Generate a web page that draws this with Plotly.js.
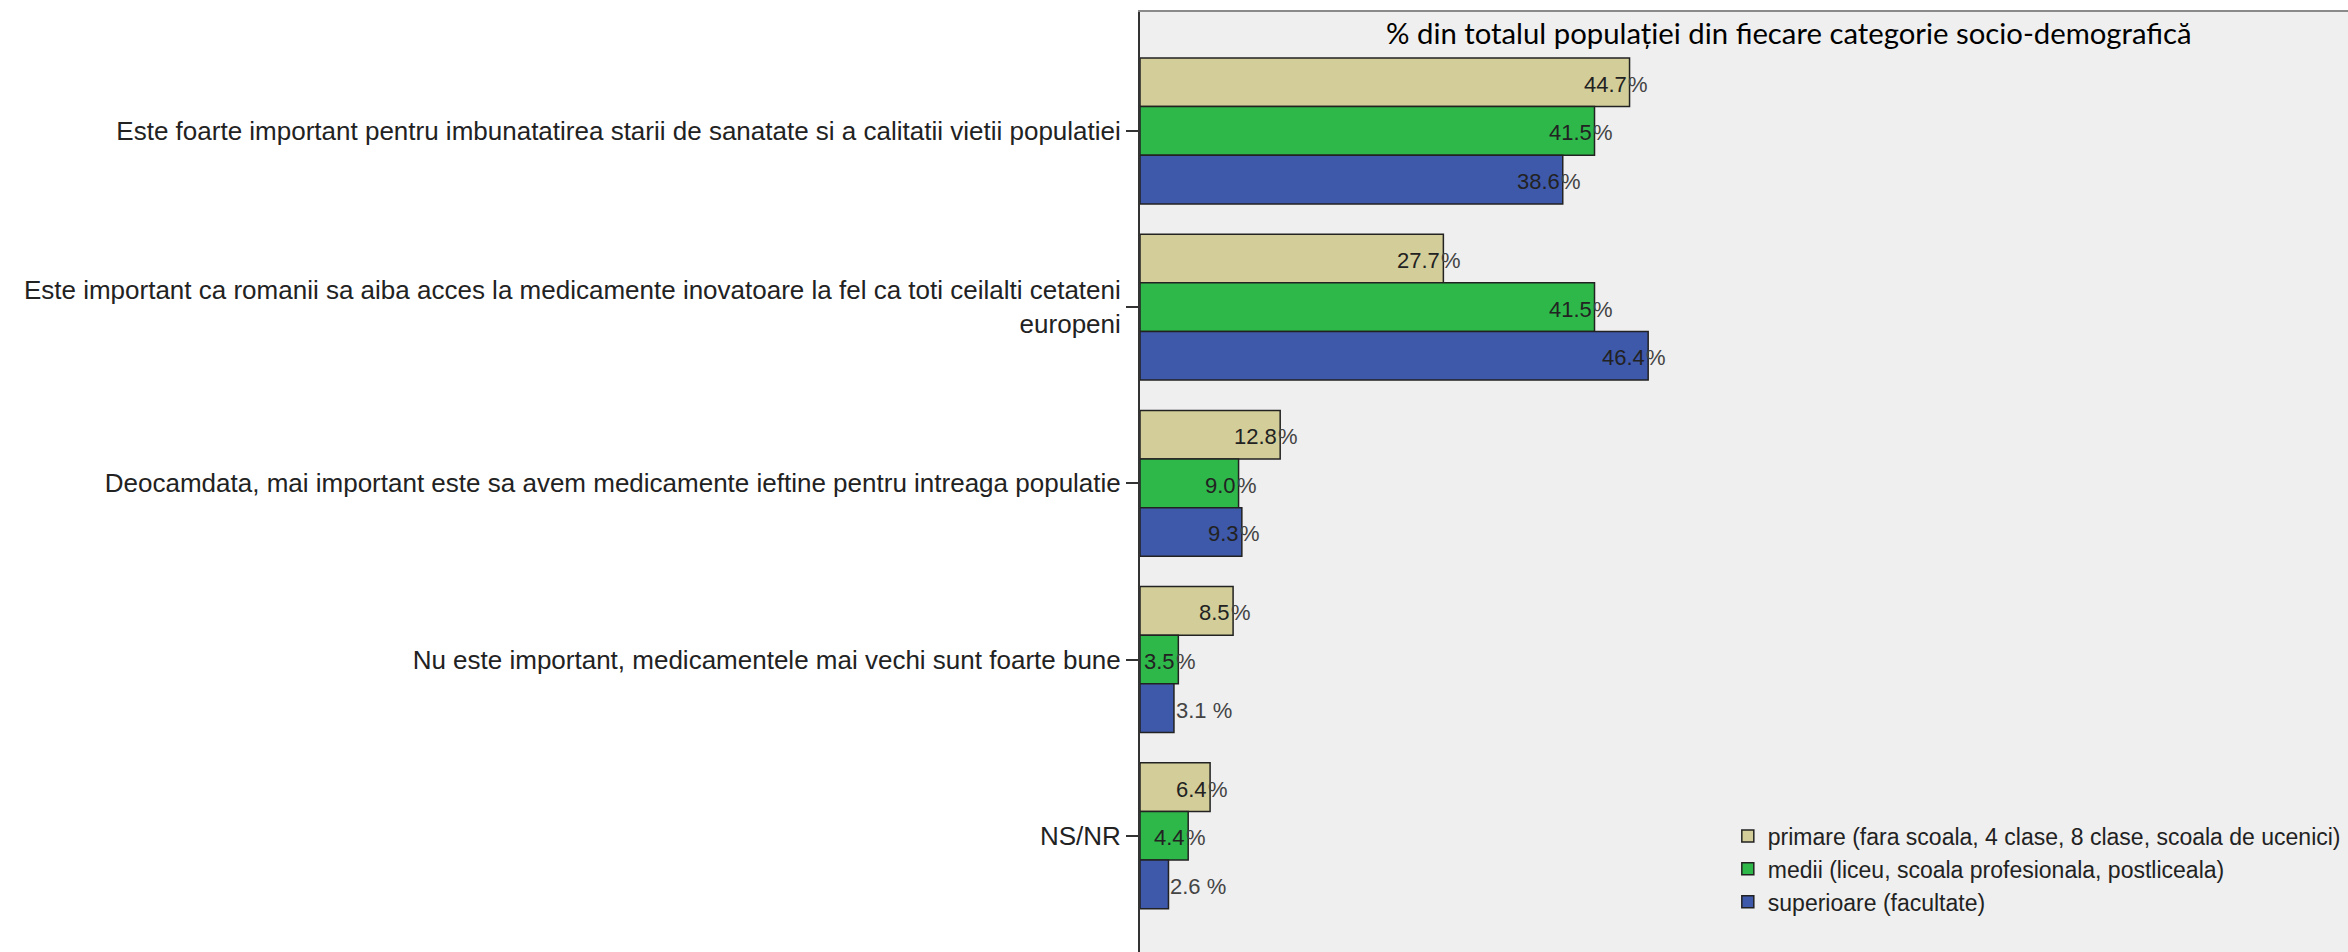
<!DOCTYPE html>
<html>
<head>
<meta charset="utf-8">
<script src="https://cdn.plot.ly/plotly-3.0.1.min.js"></script>
<style>
html,body{margin:0;padding:0;background:#ffffff;}
#chart{width:2348px;height:952px;}
</style>
</head>
<body>
<div id="chart"></div>
<script>
// ---- data ----
const categories = [
  "Este foarte important pentru imbunatatirea starii de sanatate si a calitatii vietii populatiei",
  "Este important ca romanii sa aiba acces la medicamente inovatoare la fel ca toti ceilalti cetateni<br>europeni",
  "Deocamdata, mai important este sa avem medicamente ieftine pentru intreaga populatie",
  "Nu este important, medicamentele mai vechi sunt foarte bune",
  "NS/NR"
];
const seriesNames = [
  "primare (fara scoala, 4 clase, 8 clase, scoala de ucenici)",
  "medii (liceu, scoala profesionala, postliceala)",
  "superioare (facultate)"
];
const primare    = [44.7, 27.7, 12.8, 8.5, 6.4];
const medii      = [41.5, 41.5, 9.0, 3.5, 4.4];
const superioare = [38.6, 46.4, 9.3, 3.1, 2.6];
const chartTitle = "% din totalul populației din fiecare categorie socio-demografică";

// ---- style ----
const colors = ["#d3ce99", "#2eb84a", "#3e58aa"];
const allSeries = [primare, medii, superioare];
const bargap = 0.172;
const barW = (1 - bargap) / allSeries.length;
const labelFont = {family: "Liberation Sans, Arial, sans-serif", size: 22, color: "#222"};
const pctFont = {family: "Liberation Sans, Arial, sans-serif", size: 22, color: "#444"};

const traces = allSeries.map((vals, k) => ({
  type: "bar",
  orientation: "h",
  name: seriesNames[k],
  x: vals,
  y: categories,
  marker: {color: colors[k], line: {color: "#222", width: 1.5}},
  hoverinfo: "x+name"
}));

const annotations = [];
allSeries.forEach((vals, k) => {
  vals.forEach((v, i) => {
    const yPos = i + (k - (allSeries.length - 1) / 2) * barW;
    const txt = v.toFixed(1);
    if (v < 3.3) {
      annotations.push({x: v, y: yPos, xref: "x", yref: "y", text: txt + " %",
        showarrow: false, xanchor: "left", yanchor: "middle", xshift: 0, yshift: -2, font: pctFont});
    } else {
      annotations.push({x: v, y: yPos, xref: "x", yref: "y", text: txt,
        showarrow: false, xanchor: "right", yanchor: "middle", xshift: -1, yshift: -2, font: labelFont});
      annotations.push({x: v, y: yPos, xref: "x", yref: "y", text: "%",
        showarrow: false, xanchor: "left", yanchor: "middle", xshift: -4, yshift: -2, font: pctFont});
    }
  });
});
annotations.push({
  text: chartTitle, xref: "paper", yref: "paper", x: 0.537, y: 1,
  xanchor: "center", yanchor: "top", yshift: -1, showarrow: false,
  font: {family: "Lato, Open Sans, sans-serif", size: 29.3, color: "#000"}
});

const layout = {
  width: 2348,
  height: 952,
  margin: {l: 1140, r: 0, t: 12, b: 0, pad: 0, autoexpand: false},
  paper_bgcolor: "#ffffff",
  plot_bgcolor: "#efefef",
  barmode: "group",
  bargap: bargap,
  bargroupgap: 0,
  showlegend: true,
  legend: {
    x: 0.4866, y: 0.1463, xanchor: "left", yanchor: "top",
    bgcolor: "rgba(0,0,0,0)", borderwidth: 0,
    traceorder: "normal",
    font: {family: "Liberation Sans, Arial, sans-serif", size: 23, color: "#222"},
    tracegroupgap: 0
  },
  xaxis: {
    range: [0, 110.3],
    showgrid: false, zeroline: false, showticklabels: false, ticks: "",
    showline: true, mirror: true, linecolor: "#8a8a8a", linewidth: 2
  },
  yaxis: {
    type: "category",
    range: [4.66, -0.675],
    showgrid: false, zeroline: false,
    showline: true, linecolor: "#333", linewidth: 2,
    ticks: "outside", ticklen: 12, tickwidth: 2, tickcolor: "#333",
    automargin: false,
    tickfont: {family: "Liberation Sans, Arial, sans-serif", size: 26, color: "#222"}
  },
  annotations: annotations
};

Plotly.newPlot("chart", traces, layout, {displayModeBar: false, staticPlot: true});
</script>
</body>
</html>
